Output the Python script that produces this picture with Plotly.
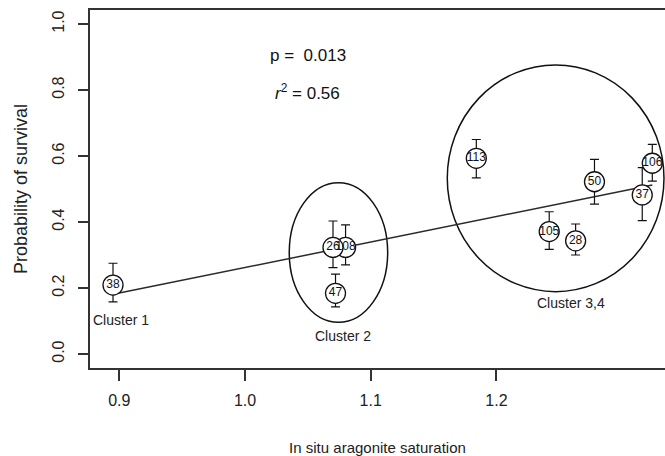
import plotly.graph_objects as go

# ---- data ----
labels = ["38", "108", "26", "47", "113", "105", "28", "50", "37", "106"]
aragonite = [0.895, 1.080, 1.070, 1.072, 1.184, 1.242, 1.263, 1.278, 1.316, 1.324]
survival = [0.209, 0.323, 0.323, 0.184, 0.593, 0.371, 0.343, 0.522, 0.482, 0.578]
ci_upper = [0.275, 0.391, 0.403, 0.242, 0.650, 0.431, 0.394, 0.590, 0.565, 0.635]
ci_lower = [0.158, 0.270, 0.262, 0.143, 0.534, 0.317, 0.300, 0.454, 0.404, 0.524]

fit_intercept = -0.511
fit_slope = 0.773

cluster_names = ["Cluster 1", "Cluster 2", "Cluster 3,4"]
cluster_label_x = [0.9017, 1.0783, 1.2592]
cluster_label_y = [0.103, 0.0545, 0.1555]
# ellipse bounds: x0, x1, y0, y1
cluster2_box = [1.0352, 1.1135, 0.096, 0.519]
cluster34_box = [1.1609, 1.3333, 0.189, 0.876]

x_ticks = [0.9, 1.0, 1.1, 1.2]
y_ticks = [0.0, 0.2, 0.4, 0.6, 0.8, 1.0]

FONT = "Liberation Sans, Arial, sans-serif"

fig = go.Figure()

# regression line
lx = [min(aragonite), max(aragonite)]
ly = [fit_intercept + fit_slope * v for v in lx]
fig.add_trace(go.Scatter(x=lx, y=ly, mode="lines",
                         line=dict(color="#2a2a2a", width=1.5),
                         hoverinfo="skip", showlegend=False))

# points with error bars
fig.add_trace(go.Scatter(
    x=aragonite, y=survival, mode="markers+text",
    text=labels, textposition="middle center",
    textfont=dict(family=FONT, size=12, color="#111"),
    marker=dict(symbol="circle", size=20, color="white",
                line=dict(color="#111", width=1.3)),
    error_y=dict(type="data", symmetric=False,
                 array=[u - v for u, v in zip(ci_upper, survival)],
                 arrayminus=[v - l for v, l in zip(survival, ci_lower)],
                 color="#111", thickness=1.2, width=4.5),
    showlegend=False))

# cluster ellipses
for b in (cluster2_box, cluster34_box):
    fig.add_shape(type="circle", xref="x", yref="y",
                  x0=b[0], x1=b[1], y0=b[2], y1=b[3],
                  line=dict(color="#111", width=1.5), layer="below")

# cluster labels
for name, cx, cy in zip(cluster_names, cluster_label_x, cluster_label_y):
    fig.add_annotation(x=cx, y=cy, text=name, showarrow=False,
                       xanchor="center", yanchor="middle",
                       font=dict(family=FONT, size=14, color="#222"))

fig.add_annotation(x=1.0184, y=0.906, text="p =  0.013", showarrow=False,
                   xanchor="left", yanchor="middle",
                   font=dict(family=FONT, size=17, color="#111"))
fig.add_annotation(x=1.0222, y=0.795, text="<i>r</i><sup>2</sup> = 0.56",
                   showarrow=False, xanchor="left", yanchor="middle",
                   font=dict(family=FONT, size=17, color="#111"))

fig.update_layout(
    width=665, height=456,
    margin=dict(l=90, r=0, t=10, b=88),
    paper_bgcolor="white", plot_bgcolor="white",
    font=dict(family=FONT, color="#222"),
    xaxis=dict(range=[0.8767, 1.3341], tickvals=x_ticks,
               ticktext=[f"{v:.1f}" for v in x_ticks],
               ticks="outside", ticklen=11, tickwidth=1.5, tickcolor="#333",
               showline=True, linecolor="#333", linewidth=1.5, mirror=True,
               showgrid=False, zeroline=False, ticklabelstandoff=6,
               tickfont=dict(family=FONT, size=16, color="#222"),
               title=dict(text="In situ aragonite saturation",
                          font=dict(family=FONT, size=15, color="#222"),
                          standoff=36)),
    yaxis=dict(range=[-0.0424, 1.0424], tickvals=y_ticks,
               ticktext=[f"{v:.1f}" for v in y_ticks], tickangle=-90,
               ticks="outside", ticklen=10, tickwidth=1.5, tickcolor="#333",
               showline=True, linecolor="#333", linewidth=1.5, mirror=False,
               showgrid=False, zeroline=False, ticklabelstandoff=8,
               tickfont=dict(family=FONT, size=16, color="#222"),
               title=dict(text="Probability of survival",
                          font=dict(family=FONT, size=18, color="#222"),
                          standoff=18)),
)

fig.write_html("out.html")
